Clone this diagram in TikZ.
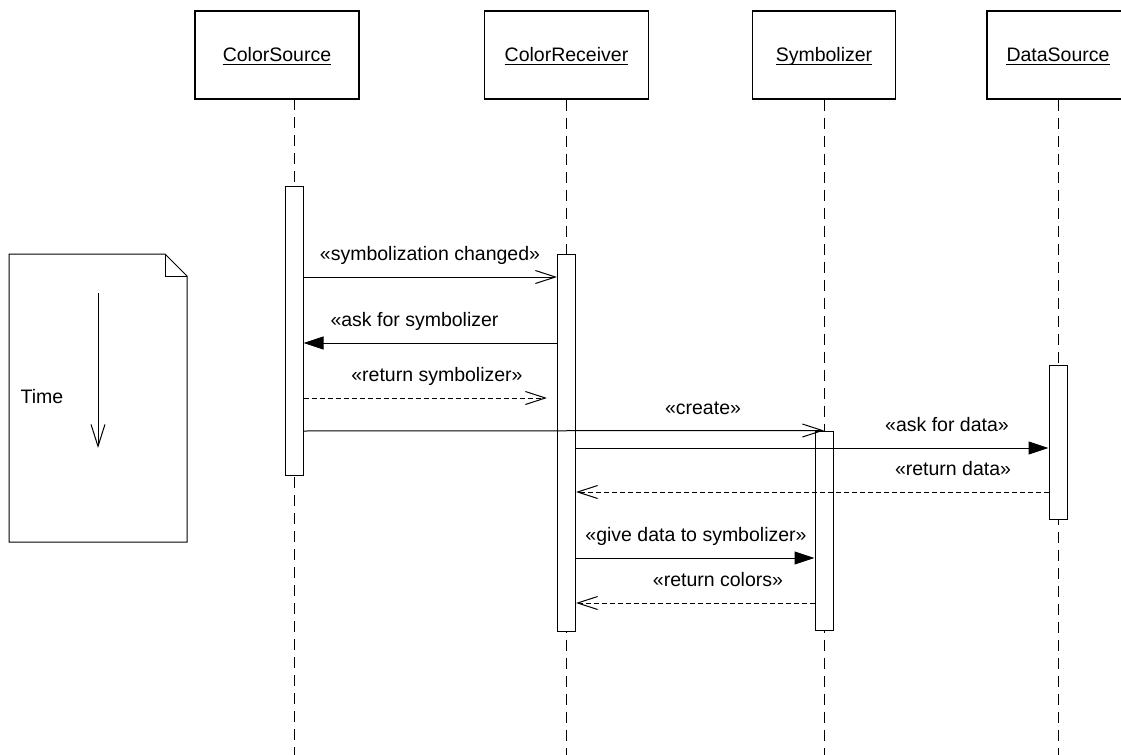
\documentclass[tikz,border=0pt]{standalone}
\usepackage{fontspec}
\setmainfont{Liberation Sans}
\usetikzlibrary{arrows.meta}
\begin{document}
\begin{tikzpicture}[x=1bp,y=-1bp,
  font=\fontsize{19.5bp}{23bp}\selectfont,
  objbox/.style={draw, line width=1.1bp, minimum height=88bp, inner sep=0pt},
  actbar/.style={draw, fill=white, line width=1bp, minimum width=18bp, inner sep=0pt},
  lifeline/.style={line width=1bp, dash pattern=on 11bp off 7bp},
  msg/.style={line width=1bp},
  retmsg/.style={line width=1bp, dash pattern=on 5bp off 3bp},
  openhead/.style={-{Straight Barb[length=20bp,width=13bp,line width=1bp]}},
  fullhead/.style={-{Triangle[length=20bp,width=13bp]}},
  lbl/.style={anchor=base, inner sep=0pt},
  uline/.style={line width=1bp},
]
\useasboundingbox (0,0) rectangle (1121,755);

% object boxes
\node[objbox, minimum width=164bp] (csbox) at (277,55) {};
\node[objbox, minimum width=164bp] (crbox) at (566.5,55) {};
\node[objbox, minimum width=143bp] (sybox) at (824,55) {};
\node[objbox, minimum width=142bp] (dsbox) at (1058,55) {};

\node[lbl] (cstext) at (277,62) {ColorSource};
\node[lbl] (crtext) at (566.5,62) {ColorReceiver};
\node[lbl] (sytext) at (824,62) {Symbolizer};
\node[lbl] (dstext) at (1058,62) {DataSource};
\foreach \t in {cstext,crtext,sytext,dstext}
  \draw[uline] ([yshift=-2.5bp]\t.base west) -- ([yshift=-2.5bp]\t.base east);

% lifeline tops (ColorSource's lifeline is offset from its box centre)
\coordinate (cstop) at (294,99);
\coordinate (csbot) at (294,755);
\draw[lifeline] (cstop) -- (csbot);
\foreach \b in {crbox,sybox,dsbox}
  \draw[lifeline] (\b.south) -- (\b.south |- 0,755);

% activation bars
\node[actbar, minimum height=288bp] (csbar) at (294,331) {};
\node[actbar, minimum height=376bp] (crbar) at (566.5,443) {};
\node[actbar, minimum height=199bp] (sybar) at (824,530.5) {};
\node[actbar, minimum height=154bp] (dsbar) at (1058,442) {};

% messages
\draw[msg, openhead] (csbar.east |- 0,277) -- (crbar.west |- 0,277);
\node[lbl] (m1) at (430,260) {«symbolization changed»};

\draw[msg, fullhead] (crbar.west |- 0,343) -- (csbar.east |- 0,343);
\node[lbl] (m2) at (414.5,326) {«ask for symbolizer};

\coordinate (rsend) at (547,398);
\draw[retmsg, openhead] (csbar.east |- 0,398) -- (rsend);
\node[lbl] (m3) at (437,381) {«return symbolizer»};

\draw[msg, openhead] (csbar.east |- 0,431) -- (sybar.north);
\node[lbl] (m4) at (703,414) {«create»};

\draw[msg, fullhead] (crbar.east |- 0,448) -- (dsbar.west |- 0,448);
\node[lbl] (m5) at (947,431) {«ask for data»};

\draw[retmsg, openhead] (dsbar.west |- 0,492) -- (crbar.east |- 0,492);
\node[lbl] (m6) at (953,475) {«return data»};

\draw[msg, fullhead] (crbar.east |- 0,558) -- (sybar.west |- 0,558);
\node[lbl] (m7) at (696,541) {«give data to symbolizer»};

\draw[retmsg, openhead] (sybar.west |- 0,603) -- (crbar.east |- 0,603);
\node[lbl] (m8) at (718,586) {«return colors»};

% time note
\draw[line width=1bp] (9,254) -- (165,254) -- (187,276) -- (187,542) -- (9,542) -- cycle;
\draw[line width=1bp] (165,254) -- (165,276) -- (187,276);
\coordinate (ttop) at (98,293);
\coordinate (tbot) at (98,448);
\draw[line width=1bp, -{Straight Barb[length=22bp,width=14bp,line width=1bp]}] (ttop) -- (tbot);
\node[lbl] (timelbl) at (42,403) {Time};
\end{tikzpicture}
\end{document}
